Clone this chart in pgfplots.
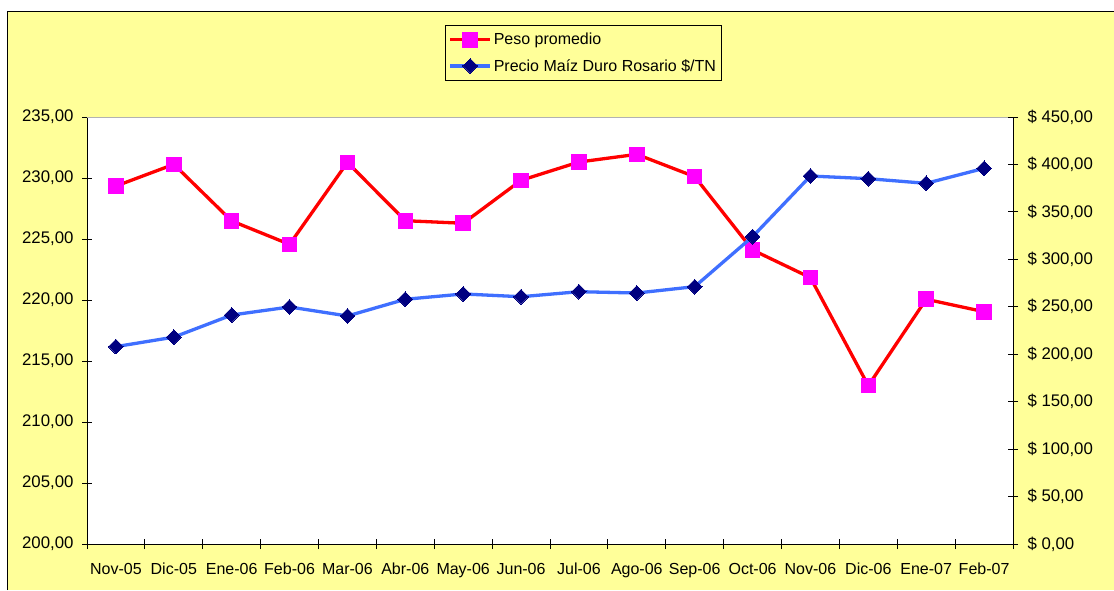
\documentclass[border=0pt]{standalone}
\usepackage{pgfplots}
\pgfplotsset{compat=1.18}
\usepackage{fontspec}
\setmainfont{Liberation Sans}
\definecolor{bgy}{HTML}{FFFF99}
\definecolor{pesored}{HTML}{FF0000}
\definecolor{pesomark}{HTML}{FF00FF}
\definecolor{maizblue}{HTML}{3F6FFF}
\definecolor{maiznavy}{HTML}{000080}
\newcommand{\chartfont}{\fontsize{16}{19}\selectfont}
\newcommand{\yfont}{\fontsize{16.8}{19}\selectfont}
\begin{document}
\begin{tikzpicture}
\useasboundingbox (0pt,0pt) rectangle (1114pt,590pt);
\fill[bgy] (7pt,0pt) rectangle (1114pt,578pt);
\draw[black, line width=1pt] (7pt,0pt) -- (7pt,578pt) -- (1114pt,578pt);
\begin{axis}[
  at={(87pt,46pt)}, anchor=south west, scale only axis,
  width=926pt, height=427pt,
  axis background/.style={fill=white},
  xmin=-0.5, xmax=15.5, ymin=200, ymax=235,
  axis x line*=bottom, axis y line*=left,
  axis line style={-, black, line width=1pt},
  xtick={0,...,15},
  xticklabels={Nov-05,Dic-05,Ene-06,Feb-06,Mar-06,Abr-06,May-06,Jun-06,Jul-06,Ago-06,Sep-06,Oct-06,Nov-06,Dic-06,Ene-07,Feb-07},
  major x tick style={draw=none},
  minor xtick={-0.5,0.5,...,15.5},
  minor tick length=10pt, major tick length=10pt,
  tick align=center,
  tick style={black, line width=0.8pt},
  ytick={200,205,...,235},
  /pgf/number format/fixed,
  /pgf/number format/fixed zerofill,
  /pgf/number format/precision=2,
  /pgf/number format/use comma,
  /pgf/number format/1000 sep={},
  /pgf/number format/assume math mode=true,
  tick label style={font=\chartfont, text=black},
  xticklabel style={yshift=-10pt, text height=11.5pt, text depth=3pt},
  yticklabel style={xshift=-5pt, font=\yfont},
  legend style={at={(0.536,1.2155)}, anchor=north, draw=black, fill=bgy, font=\chartfont, inner xsep=3pt, inner ysep=6pt, row sep=9pt, /tikz/every even column/.append style={column sep=0pt}},
  legend cell align=left,
  legend image code/.code={\draw[mark repeat=2,mark phase=2,#1] plot coordinates {(0cm,0cm)(0.7cm,0cm)(1.4cm,0cm)};},
  clip=false,
]
\draw[gray!60, line width=0.8pt] (axis cs:-0.5,235) -- (axis cs:15.5,235);
\addplot[pesored, line width=3.3pt, mark=square*, mark size=7.3pt, mark options={fill=pesomark, draw=pesomark, line width=0pt}] coordinates {
(0,229.34) (1,231.12) (2,226.48) (3,224.56) (4,231.28) (5,226.50) (6,226.29) (7,229.81)
(8,231.31) (9,231.94) (10,230.11) (11,224.10) (12,221.83) (13,212.98) (14,220.06) (15,219.04)};
\addlegendentry{Peso promedio}
\addlegendimage{maizblue, line width=3.3pt, mark=square*, mark size=5.2pt, mark options={rotate=45, fill=maiznavy, draw=maiznavy, line width=0pt}}
\addlegendentry{Precio Maíz Duro Rosario \$/TN}
\end{axis}
\begin{axis}[
  at={(87pt,46pt)}, anchor=south west, scale only axis,
  width=926pt, height=427pt,
  xmin=-0.5, xmax=15.5, ymin=0, ymax=450,
  axis x line=none, axis y line*=right,
  axis line style={-, black, line width=1pt},
  ytick={0,50,...,450},
  major tick length=10pt, tick align=center,
  tick style={black, line width=0.8pt},
  /pgf/number format/fixed,
  /pgf/number format/fixed zerofill,
  /pgf/number format/precision=2,
  /pgf/number format/use comma,
  /pgf/number format/1000 sep={},
  /pgf/number format/assume math mode=true,
  yticklabel={\$ \pgfmathprintnumber{\tick}},
  yticklabel style={xshift=6pt, font=\yfont, text=black},
  clip=false,
]
\addplot[maizblue, line width=3.3pt, mark=square*, mark size=5.2pt, mark options={rotate=45, fill=maiznavy, draw=maiznavy, line width=0pt}] coordinates {
(0,208.0) (1,218.0) (2,241.3) (3,249.8) (4,240.3) (5,257.9) (6,263.5) (7,260.6)
(8,265.9) (9,264.5) (10,271.2) (11,323.9) (12,387.8) (13,385.0) (14,380.1) (15,395.9)};
\end{axis}
\end{tikzpicture}
\end{document}
